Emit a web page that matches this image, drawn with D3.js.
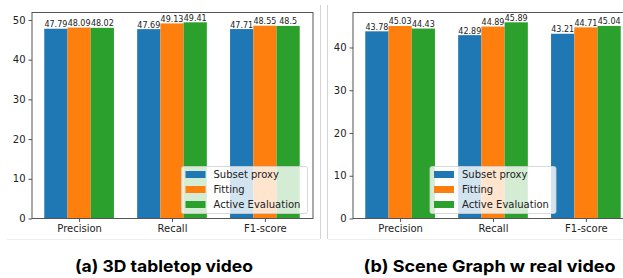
<!DOCTYPE html>
<html lang="en">
<head>
<meta charset="UTF-8">
<title>Subset proxy vs Fitting vs Active Evaluation</title>
<script src="https://cdnjs.cloudflare.com/ajax/libs/d3/7.8.5/d3.min.js"></script>
<style>
    body { margin: 0; background: #fff; }
    svg { display: block; }
    .tick text { font-family: "DejaVu Sans", sans-serif; font-size: 10px; fill: #222; }
    .caption { font-family: Inter, "Noto Sans", sans-serif; font-weight: 700; font-size: 16.5px; fill: #000; }
</style>
</head>
<body>
<div id="wrapper"></div>
<script>
const categories = ["Precision", "Recall", "F1-score"];
const seriesNames = ["Subset proxy", "Fitting", "Active Evaluation"];
const colors = ["#1f77b4", "#ff7f0e", "#2ca02c"];

// (a) 3D tabletop video
const tabletopSubset = [47.79, 47.69, 47.71];
const tabletopFitting = [48.09, 49.13, 48.55];
const tabletopActive = [48.02, 49.41, 48.5];
const tabletopTicks = [0, 10, 20, 30, 40, 50];

// (b) Scene Graph w real video
const sceneSubset = [43.78, 42.89, 43.21];
const sceneFitting = [45.03, 44.89, 44.71];
const sceneActive = [44.43, 45.89, 45.04];
const sceneTicks = [0, 10, 20, 30, 40];

const width = 623, height = 278;

const svg = d3.select("#wrapper").append("svg")
    .attr("width", width)
    .attr("height", height);

// subfigure frames
svg.append("line").attr("x1", 320.5).attr("x2", 320.5).attr("y1", 5).attr("y2", 239)
    .attr("stroke", "#d4d4d4");
svg.append("line").attr("x1", 327.5).attr("x2", 327.5).attr("y1", 5).attr("y2", 239)
    .attr("stroke", "#d4d4d4");
svg.append("line").attr("x1", 7).attr("x2", 320).attr("y1", 239.5).attr("y2", 239.5)
    .attr("stroke", "#eeeeee");
svg.append("line").attr("x1", 328).attr("x2", 623).attr("y1", 239.5).attr("y2", 239.5)
    .attr("stroke", "#eeeeee");

function drawPanel(opts) {
    const data = [opts.subset, opts.fitting, opts.active];
    const left = opts.left, top = 12.5, bottom = 218.5, w = 281;
    const barW = 0.25;

    const x = d3.scaleLinear()
        .domain([-0.5125, 2.5125])
        .range([left, left + w]);
    const yMax = d3.max(data.flat()) * 1.05;
    const y = d3.scaleLinear()
        .domain([0, yMax])
        .range([bottom, top]);

    const g = svg.append("g");

    // bars
    data.forEach((vals, s) => {
        const off = (s - 1) * barW;
        g.selectAll(null)
            .data(vals)
            .enter()
            .append("rect")
            .attr("x", (d, i) => x(i + off - barW / 2))
            .attr("y", d => y(d))
            .attr("width", x(barW) - x(0))
            .attr("height", d => y(0) - y(d))
            .attr("fill", colors[s]);

        g.selectAll(null)
            .data(vals)
            .enter()
            .append("text")
            .attr("x", (d, i) => x(i + off))
            .attr("y", d => y(d) - 1.5)
            .attr("text-anchor", "middle")
            .attr("font-family", "DejaVu Sans, sans-serif")
            .attr("font-size", "8px")
            .attr("fill", "#222")
            .text(d => String(d));
    });

    // frame
    g.append("rect")
        .attr("x", left + 0.5).attr("y", top)
        .attr("width", w).attr("height", bottom - top)
        .attr("fill", "none")
        .attr("stroke", "#555")
        .attr("stroke-width", 1);

    // axes
    const yAxis = g.append("g")
        .attr("transform", `translate(${left + 0.5},0)`)
        .call(d3.axisLeft(y).tickValues(opts.ticks).tickSize(3.5).tickPadding(3).tickFormat(d3.format("d")));
    yAxis.select(".domain").remove();
    yAxis.selectAll(".tick line").attr("stroke", "#555");

    const xAxis = g.append("g")
        .attr("transform", `translate(0,${bottom})`)
        .call(d3.axisBottom(x).tickValues([0, 1, 2]).tickSize(3.5).tickPadding(3)
            .tickFormat(i => categories[i]));
    xAxis.select(".domain").remove();
    xAxis.selectAll(".tick line").attr("stroke", "#555");

    // legend
    const lw = 126, lh = 47;
    const lx = opts.legendPos === "right" ? left + w - 5 - lw : left + w / 2 - lw / 2;
    const ly = bottom - 5 - lh;
    const leg = g.append("g").attr("transform", `translate(${lx},${ly})`);
    leg.append("rect")
        .attr("width", lw).attr("height", lh)
        .attr("rx", 2)
        .attr("fill", "#fff").attr("fill-opacity", 0.8)
        .attr("stroke", "#d0d0d0").attr("stroke-opacity", 0.8);
    seriesNames.forEach((name, s) => {
        const cy = 8 + s * 15;
        leg.append("rect")
            .attr("x", 4).attr("y", cy - 3.5)
            .attr("width", 20).attr("height", 7)
            .attr("fill", colors[s]);
        leg.append("text")
            .attr("x", 32).attr("y", cy + 3.6)
            .attr("font-family", "DejaVu Sans, sans-serif")
            .attr("font-size", "10px")
            .attr("fill", "#222")
            .text(name);
    });

    svg.append("text")
        .attr("class", "caption")
        .attr("x", opts.captionX)
        .attr("y", 271.5)
        .attr("text-anchor", "middle")
        .attr("textLength", opts.captionW)
        .attr("lengthAdjust", "spacingAndGlyphs")
        .text(opts.caption);
}

drawPanel({
    subset: tabletopSubset, fitting: tabletopFitting, active: tabletopActive,
    ticks: tabletopTicks, left: 31.5, legendPos: "right",
    caption: "(a) 3D tabletop video", captionX: 164, captionW: 178
});

drawPanel({
    subset: sceneSubset, fitting: sceneFitting, active: sceneActive,
    ticks: sceneTicks, left: 352.5, legendPos: "center",
    caption: "(b) Scene Graph w real video", captionX: 489.5, captionW: 252
});
</script>
</body>
</html>
